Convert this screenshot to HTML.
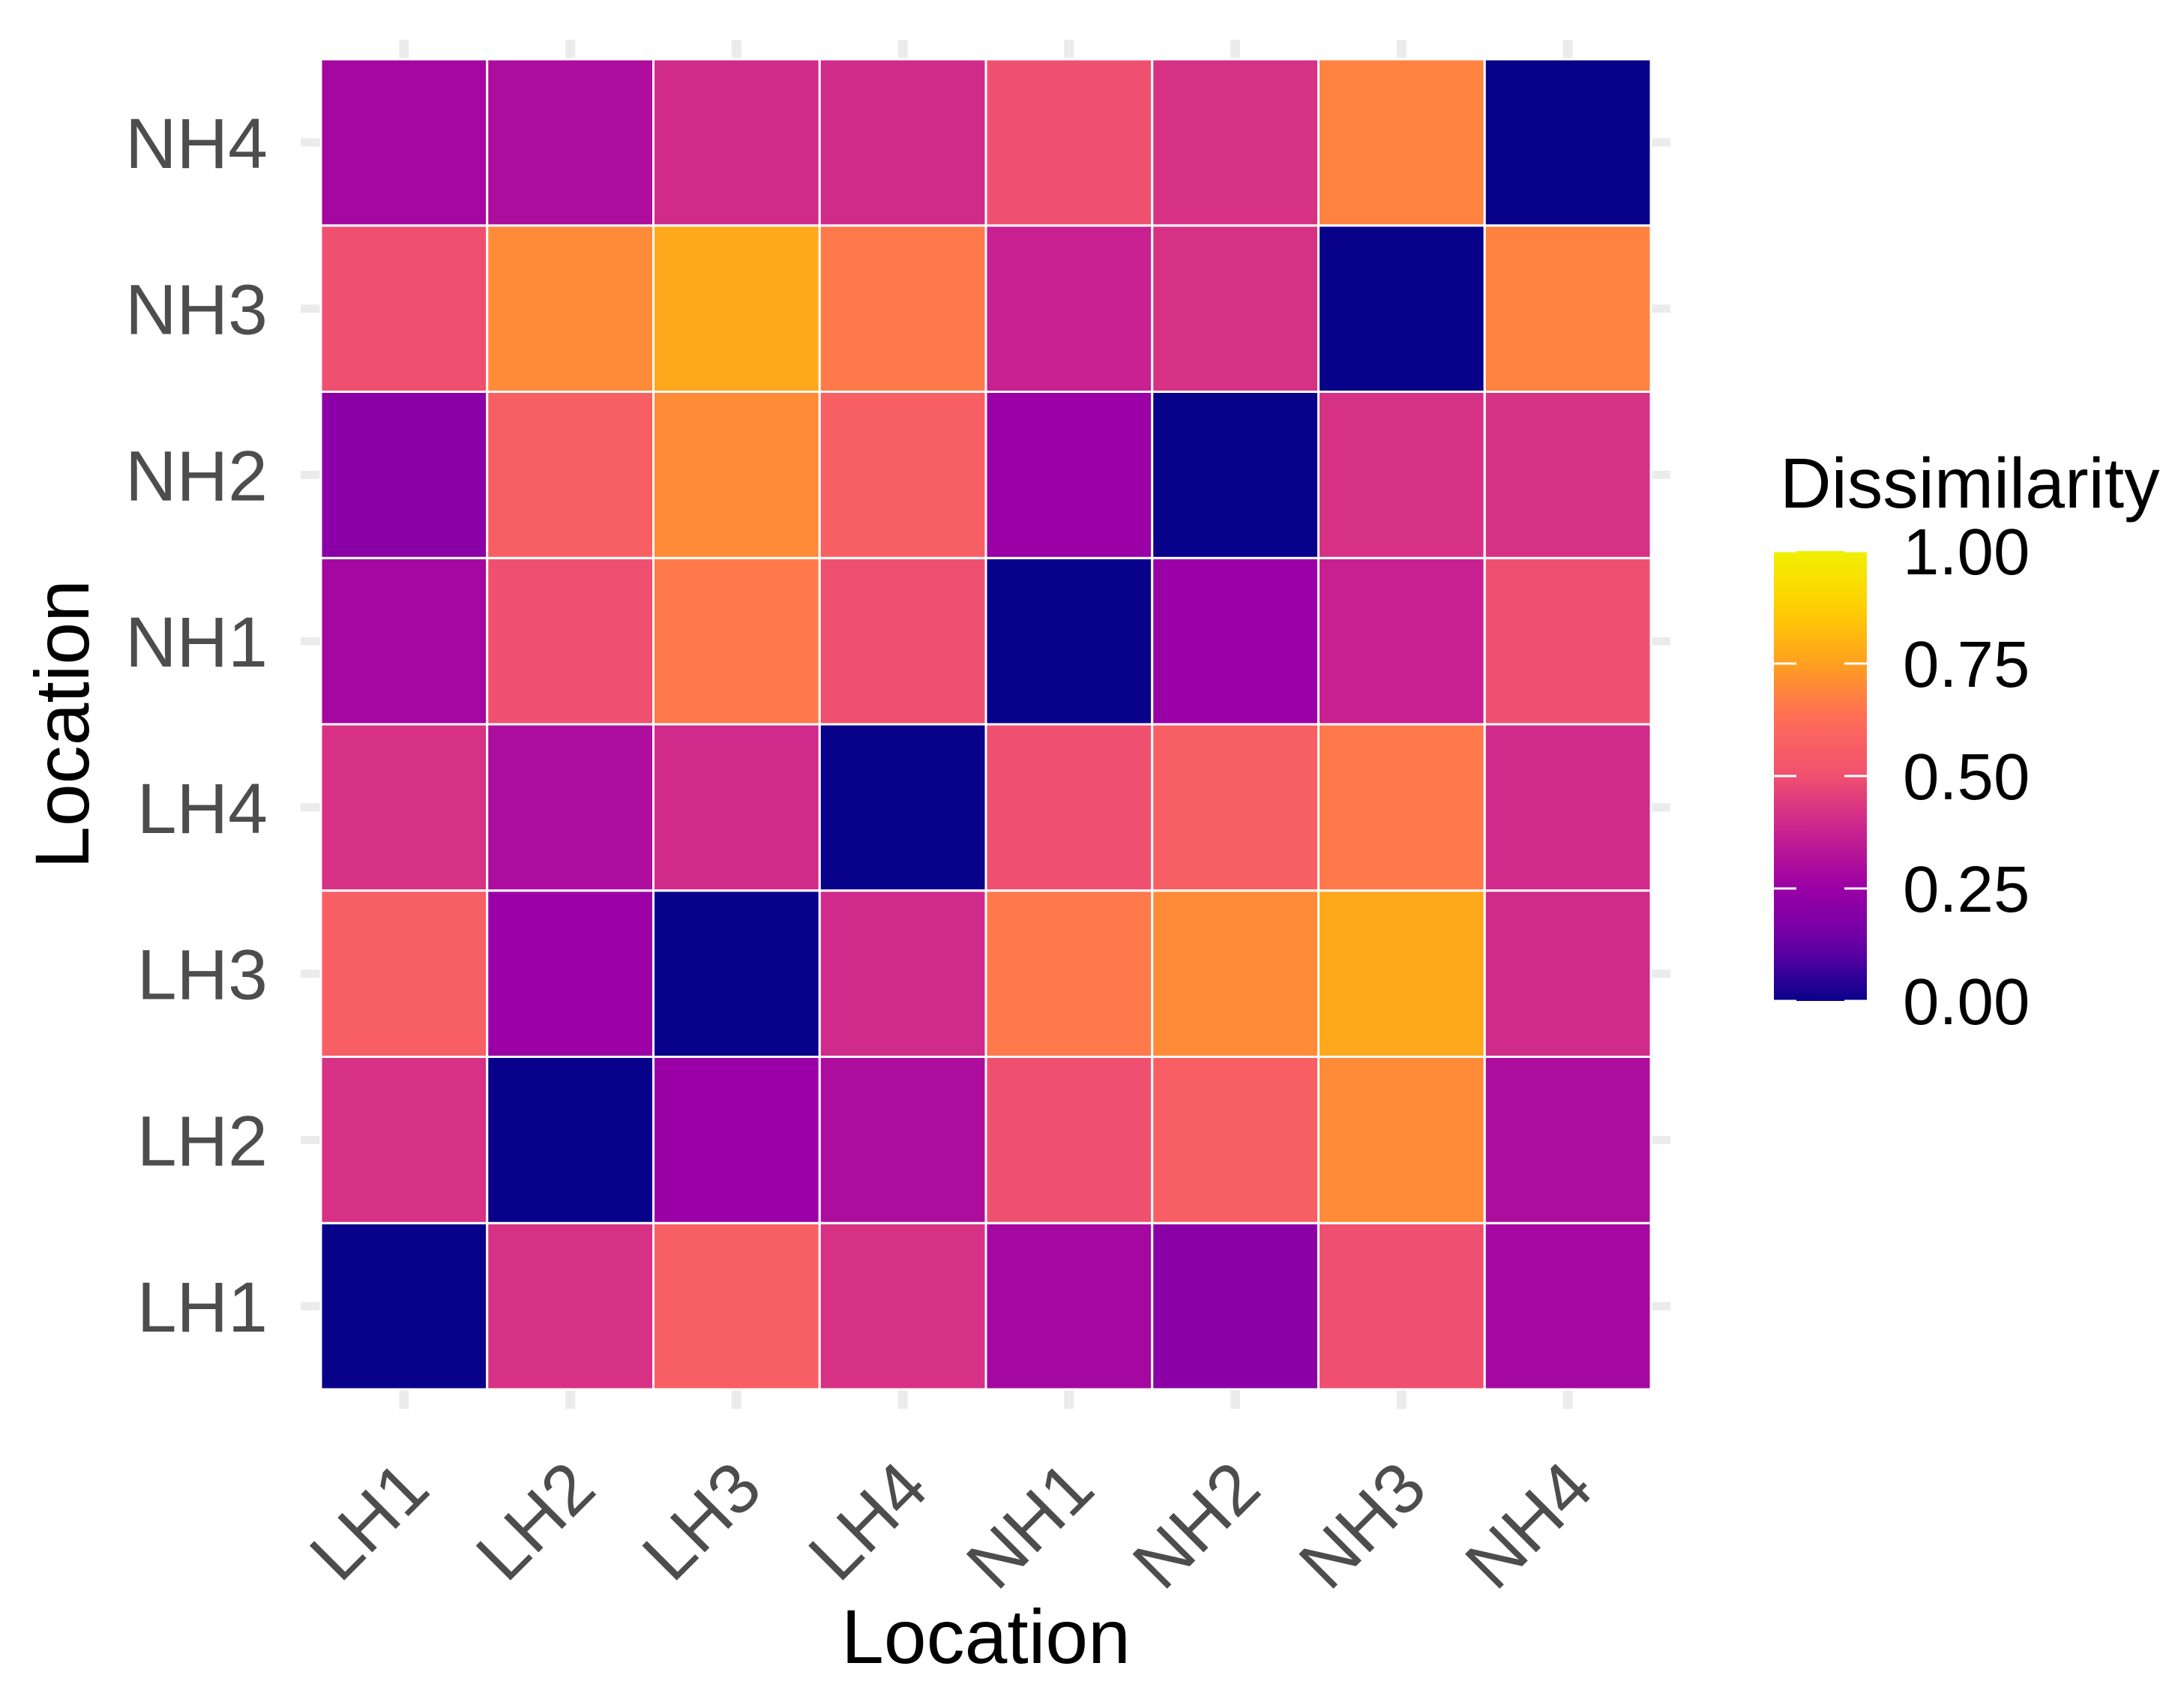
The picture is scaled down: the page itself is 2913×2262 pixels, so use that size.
<!DOCTYPE html>
<html>
<head>
<meta charset="utf-8">
<style>
html,body{margin:0;padding:0;background:#fff;}
svg{display:block;}
text{font-family:"Liberation Sans",Arial,sans-serif;}
</style>
</head>
<body>
<svg id="chart" width="2913" height="2262" viewBox="0 0 2913 2262" xmlns="http://www.w3.org/2000/svg">
  <g id="grid"></g>
  <g id="tiles"></g>
  <g id="yticks"></g>
  <g id="xticks"></g>
  <text x="1315" y="2218" font-size="102" text-anchor="middle" fill="#000">Location</text>
  <text transform="translate(118,966) rotate(-90)" font-size="102" text-anchor="middle" fill="#000">Location</text>
  <g id="legend">
    <text x="2374" y="677" font-size="95" fill="#000">Dissimilarity</text>
    <defs>
      <linearGradient id="grad" x1="0" y1="1" x2="0" y2="0"></linearGradient>
    </defs>
    <rect x="2366" y="735" width="124" height="600" fill="url(#grad)"></rect>
    <g id="legticks"></g>
  </g>
</svg>
<script>
const categories = ["LH1","LH2","LH3","LH4","NH1","NH2","NH3","NH4"];
// values[i][j]: dissimilarity between categories[i] and categories[j]
const rowLH1 = [0.00,0.42,0.57,0.42,0.28,0.21,0.50,0.28];
const rowLH2 = [0.42,0.00,0.25,0.30,0.50,0.57,0.70,0.30];
const rowLH3 = [0.57,0.25,0.00,0.40,0.66,0.70,0.77,0.40];
const rowLH4 = [0.42,0.30,0.40,0.00,0.50,0.57,0.66,0.40];
const rowNH1 = [0.28,0.50,0.66,0.50,0.00,0.25,0.375,0.50];
const rowNH2 = [0.21,0.57,0.70,0.57,0.25,0.00,0.42,0.42];
const rowNH3 = [0.50,0.70,0.77,0.66,0.375,0.42,0.00,0.68];
const rowNH4 = [0.28,0.30,0.40,0.40,0.50,0.42,0.68,0.00];
const values = [rowLH1,rowLH2,rowLH3,rowLH4,rowNH1,rowNH2,rowNH3,rowNH4];
const legendTicks = [0,0.25,0.5,0.75,1];
const legendTickLabels = ["0.00","0.25","0.50","0.75","1.00"];

const NS = "http://www.w3.org/2000/svg";
const stops = [[0,"#08028a"],[0.125,"#6a00a8"],[0.25,"#9a00a5"],[0.375,"#c82090"],[0.5,"#f05070"],[0.625,"#ff6a5a"],[0.75,"#ffa020"],[0.875,"#ffd000"],[1,"#f0f000"]];
function hex(c){return [parseInt(c.substr(1,2),16),parseInt(c.substr(3,2),16),parseInt(c.substr(5,2),16)];}
function color(v){
  v=Math.max(0,Math.min(1,v));
  for(let k=0;k<stops.length-1;k++){
    const a=stops[k],b=stops[k+1];
    if(v<=b[0]){const t=(v-a[0])/(b[0]-a[0]);const A=hex(a[1]),B=hex(b[1]);
      return "rgb("+A.map((x,i)=>Math.round(x+(B[i]-x)*t)).join(",")+")";}
  }
  return stops[stops.length-1][1];
}
const X0=428,X1=2202,Y0=79,Y1=1853;
const n=categories.length, cw=(X1-X0)/n, ch=(Y1-Y0)/n;
function xPos(i){return X0+i*cw;}
function yPos(i){return Y1-(i+1)*ch;}
function mk(tag,attrs,parent){const e=document.createElementNS(NS,tag);for(const k in attrs)e.setAttribute(k,attrs[k]);parent.appendChild(e);return e;}

const grid=document.getElementById('grid');
for(let i=0;i<n;i++){
  const vx=mk('line',{x1:xPos(i)+cw/2,x2:xPos(i)+cw/2,y1:53,y2:1879,stroke:'#ebebeb','stroke-width':13},grid);
  
  
  const hy=mk('line',{x1:401,x2:2228,y1:yPos(i)+ch/2,y2:yPos(i)+ch/2,stroke:'#ebebeb','stroke-width':11},grid);
  
  
}
const tiles=document.getElementById('tiles');
for(let r=0;r<n;r++){for(let c=0;c<n;c++){
  const t=mk('rect',{x:xPos(c),y:yPos(r),width:cw,height:ch,fill:color(values[r][c]),stroke:'#fff','stroke-width':3},tiles);
  
  
}}
const yt=document.getElementById('yticks');
for(let i=0;i<n;i++){
  const t=mk('text',{x:357,y:yPos(i)+ch/2+34,'font-size':95,'text-anchor':'end',fill:'#4d4d4d'},yt);
  t.textContent=categories[i];
  
  
}
const xt=document.getElementById('xticks');
for(let i=0;i<n;i++){
  const px=xPos(i)+cw/2+38, py=1990;
  const t=mk('text',{transform:'translate('+px+','+py+') rotate(-45)','font-size':95,'text-anchor':'end',fill:'#4d4d4d'},xt);
  t.textContent=categories[i];
  
  
}
const grad=document.getElementById('grad');
for(let k=0;k<=20;k++){const v=k/20;mk('stop',{offset:v,'stop-color':color(v)},grad);}
const lt=document.getElementById('legticks');
const LB0=1335,LB1=735;
for(let i=0;i<legendTicks.length;i++){
  const y=LB0-(LB0-LB1)*legendTicks[i];
  const a=mk('line',{x1:2366,x2:2396,y1:y,y2:y,stroke:'#fff','stroke-width':3},lt);
  
  
  const b=mk('line',{x1:2460,x2:2490,y1:y,y2:y,stroke:'#fff','stroke-width':3},lt);
  
  
  const t=mk('text',{x:2538,y:y+31,'font-size':87,fill:'#000'},lt);
  t.textContent=legendTickLabels[i];
  
  
}
</script>
</body>
</html>
